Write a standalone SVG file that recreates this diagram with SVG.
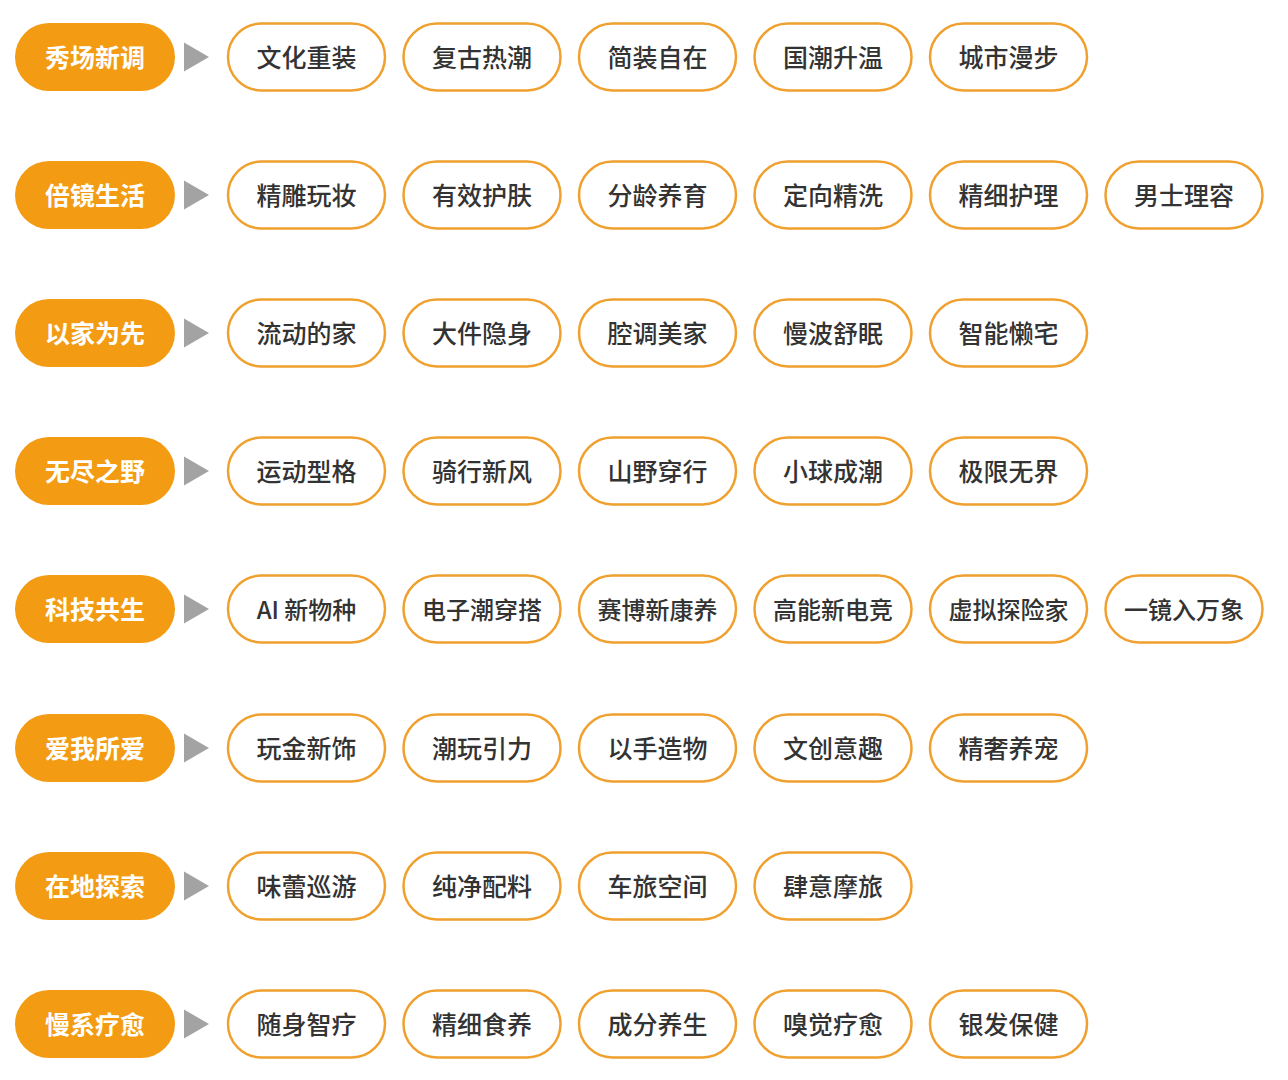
<svg xmlns="http://www.w3.org/2000/svg" width="1288" height="1080" viewBox="0 0 1288 1080">
<style>
.cat use{fill:#f39b12;}
.cat text{fill:#ffffff;font-family:"Noto Sans CJK SC","Noto Sans",sans-serif;font-size:25px;font-weight:700;text-anchor:middle;dominant-baseline:central;}
.item use{fill:#ffffff;stroke:#f0a02e;stroke-width:2.5;}
.item text{fill:#333333;font-family:"Noto Sans CJK SC","Noto Sans",sans-serif;font-size:25px;font-weight:500;text-anchor:middle;dominant-baseline:central;}
.item text.s{font-size:24px;}
.arr{fill:#a3a3a3;}
</style>
<defs>
<rect id="cp" x="15" y="-34" width="160" height="68" rx="34"/>
<rect id="ip" x="-78.5" y="-33.5" width="157" height="67" rx="33.5"/>
<polygon id="tri" points="184,-14.5 184,14.5 209,0"/>
</defs>
<rect width="1288" height="1080" fill="#ffffff"/>
<g id="connectors">
<use href="#tri" class="arr" y="57"/>
<use href="#tri" class="arr" y="195"/>
<use href="#tri" class="arr" y="333"/>
<use href="#tri" class="arr" y="471"/>
<use href="#tri" class="arr" y="609"/>
<use href="#tri" class="arr" y="748"/>
<use href="#tri" class="arr" y="886"/>
<use href="#tri" class="arr" y="1024"/>
</g>
<!-- Row 1 -->
<g id="cat1" class="cat" transform="translate(0,57)"><use href="#cp"/><text x="95" y="-1">秀场新调</text></g>
<g id="r1i1" class="item" transform="translate(306.5,57)"><use href="#ip"/><text y="-1">文化重装</text></g>
<g id="r1i2" class="item" transform="translate(482,57)"><use href="#ip"/><text y="-1">复古热潮</text></g>
<g id="r1i3" class="item" transform="translate(657.5,57)"><use href="#ip"/><text y="-1">简装自在</text></g>
<g id="r1i4" class="item" transform="translate(833,57)"><use href="#ip"/><text y="-1">国潮升温</text></g>
<g id="r1i5" class="item" transform="translate(1008.5,57)"><use href="#ip"/><text y="-1">城市漫步</text></g>
<!-- Row 2 -->
<g id="cat2" class="cat" transform="translate(0,195)"><use href="#cp"/><text x="95" y="-1">倍镜生活</text></g>
<g id="r2i1" class="item" transform="translate(306.5,195)"><use href="#ip"/><text y="-1">精雕玩妆</text></g>
<g id="r2i2" class="item" transform="translate(482,195)"><use href="#ip"/><text y="-1">有效护肤</text></g>
<g id="r2i3" class="item" transform="translate(657.5,195)"><use href="#ip"/><text y="-1">分龄养育</text></g>
<g id="r2i4" class="item" transform="translate(833,195)"><use href="#ip"/><text y="-1">定向精洗</text></g>
<g id="r2i5" class="item" transform="translate(1008.5,195)"><use href="#ip"/><text y="-1">精细护理</text></g>
<g id="r2i6" class="item" transform="translate(1184,195)"><use href="#ip"/><text y="-1">男士理容</text></g>
<!-- Row 3 -->
<g id="cat3" class="cat" transform="translate(0,333)"><use href="#cp"/><text x="95" y="-1">以家为先</text></g>
<g id="r3i1" class="item" transform="translate(306.5,333)"><use href="#ip"/><text y="-1">流动的家</text></g>
<g id="r3i2" class="item" transform="translate(482,333)"><use href="#ip"/><text y="-1">大件隐身</text></g>
<g id="r3i3" class="item" transform="translate(657.5,333)"><use href="#ip"/><text y="-1">腔调美家</text></g>
<g id="r3i4" class="item" transform="translate(833,333)"><use href="#ip"/><text y="-1">慢波舒眠</text></g>
<g id="r3i5" class="item" transform="translate(1008.5,333)"><use href="#ip"/><text y="-1">智能懒宅</text></g>
<!-- Row 4 -->
<g id="cat4" class="cat" transform="translate(0,471)"><use href="#cp"/><text x="95" y="-1">无尽之野</text></g>
<g id="r4i1" class="item" transform="translate(306.5,471)"><use href="#ip"/><text y="-1">运动型格</text></g>
<g id="r4i2" class="item" transform="translate(482,471)"><use href="#ip"/><text y="-1">骑行新风</text></g>
<g id="r4i3" class="item" transform="translate(657.5,471)"><use href="#ip"/><text y="-1">山野穿行</text></g>
<g id="r4i4" class="item" transform="translate(833,471)"><use href="#ip"/><text y="-1">小球成潮</text></g>
<g id="r4i5" class="item" transform="translate(1008.5,471)"><use href="#ip"/><text y="-1">极限无界</text></g>
<!-- Row 5 -->
<g id="cat5" class="cat" transform="translate(0,609)"><use href="#cp"/><text x="95" y="-1">科技共生</text></g>
<g id="r5i1" class="item" transform="translate(306.5,609)"><use href="#ip"/><text class="s" y="-1">AI 新物种</text></g>
<g id="r5i2" class="item" transform="translate(482,609)"><use href="#ip"/><text class="s" y="-1">电子潮穿搭</text></g>
<g id="r5i3" class="item" transform="translate(657.5,609)"><use href="#ip"/><text class="s" y="-1">赛博新康养</text></g>
<g id="r5i4" class="item" transform="translate(833,609)"><use href="#ip"/><text class="s" y="-1">高能新电竞</text></g>
<g id="r5i5" class="item" transform="translate(1008.5,609)"><use href="#ip"/><text class="s" y="-1">虚拟探险家</text></g>
<g id="r5i6" class="item" transform="translate(1184,609)"><use href="#ip"/><text class="s" y="-1">一镜入万象</text></g>
<!-- Row 6 -->
<g id="cat6" class="cat" transform="translate(0,748)"><use href="#cp"/><text x="95" y="-1">爱我所爱</text></g>
<g id="r6i1" class="item" transform="translate(306.5,748)"><use href="#ip"/><text y="-1">玩金新饰</text></g>
<g id="r6i2" class="item" transform="translate(482,748)"><use href="#ip"/><text y="-1">潮玩引力</text></g>
<g id="r6i3" class="item" transform="translate(657.5,748)"><use href="#ip"/><text y="-1">以手造物</text></g>
<g id="r6i4" class="item" transform="translate(833,748)"><use href="#ip"/><text y="-1">文创意趣</text></g>
<g id="r6i5" class="item" transform="translate(1008.5,748)"><use href="#ip"/><text y="-1">精奢养宠</text></g>
<!-- Row 7 -->
<g id="cat7" class="cat" transform="translate(0,886)"><use href="#cp"/><text x="95" y="-1">在地探索</text></g>
<g id="r7i1" class="item" transform="translate(306.5,886)"><use href="#ip"/><text y="-1">味蕾巡游</text></g>
<g id="r7i2" class="item" transform="translate(482,886)"><use href="#ip"/><text y="-1">纯净配料</text></g>
<g id="r7i3" class="item" transform="translate(657.5,886)"><use href="#ip"/><text y="-1">车旅空间</text></g>
<g id="r7i4" class="item" transform="translate(833,886)"><use href="#ip"/><text y="-1">肆意摩旅</text></g>
<!-- Row 8 -->
<g id="cat8" class="cat" transform="translate(0,1024)"><use href="#cp"/><text x="95" y="-1">慢系疗愈</text></g>
<g id="r8i1" class="item" transform="translate(306.5,1024)"><use href="#ip"/><text y="-1">随身智疗</text></g>
<g id="r8i2" class="item" transform="translate(482,1024)"><use href="#ip"/><text y="-1">精细食养</text></g>
<g id="r8i3" class="item" transform="translate(657.5,1024)"><use href="#ip"/><text y="-1">成分养生</text></g>
<g id="r8i4" class="item" transform="translate(833,1024)"><use href="#ip"/><text y="-1">嗅觉疗愈</text></g>
<g id="r8i5" class="item" transform="translate(1008.5,1024)"><use href="#ip"/><text y="-1">银发保健</text></g>
</svg>
